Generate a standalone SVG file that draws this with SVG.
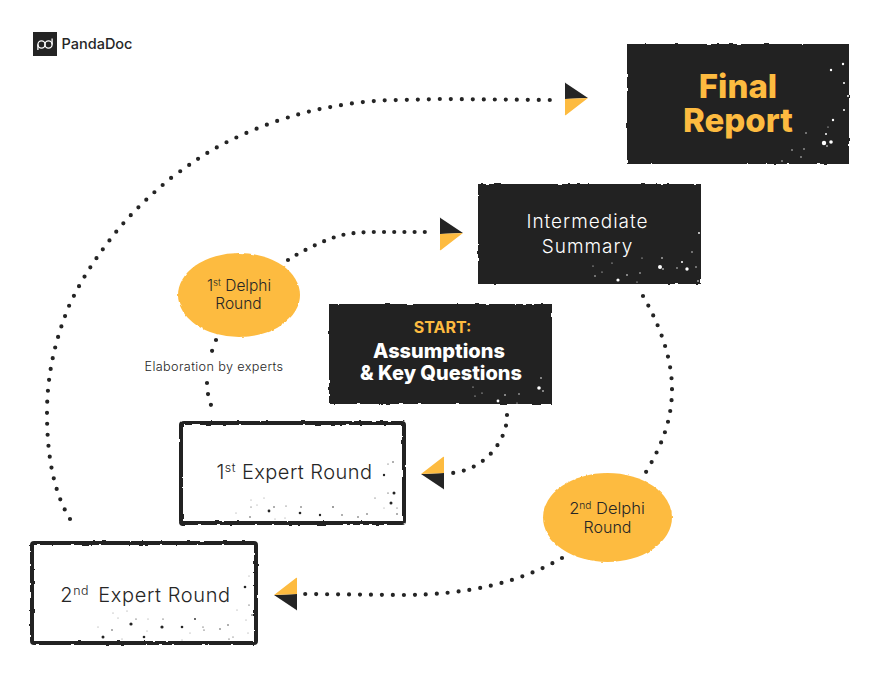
<svg xmlns="http://www.w3.org/2000/svg" xmlns:xlink="http://www.w3.org/1999/xlink" width="880" height="693" viewBox="0 0 880 693">
  <style>
    text { font-family: "Inter", "Liberation Sans", sans-serif; text-anchor: middle; fill: #262626; }
    .solid { fill: #242424; }
    .frame { fill: #fff; stroke: #242424; stroke-width: 4; stroke-linejoin: round; }
    .blob { fill: #FDBB40; }
    .dots { fill: none; stroke: #242424; stroke-width: 4.2; stroke-linecap: round; stroke-dasharray: 0 1; }
    .lt { fill: #fff; }
    .dk { fill: #242424; }
    .sup { font-size: 62%; }
  </style>
  <defs>
    <filter id="rough" x="-5%" y="-8%" width="110%" height="116%">
      <feTurbulence type="fractalNoise" baseFrequency="0.14" numOctaves="2" seed="4" result="n"/>
      <feDisplacementMap in="SourceGraphic" in2="n" scale="2.6" xChannelSelector="R" yChannelSelector="G"/>
    </filter>
    <g id="head">
      <path class="dk" d="M0 -17 Q-.5 -17 .5 -16 L23 -1 L0 0 Z"/>
      <path class="blob" d="M0 0 L23 -1 L1 16 Q-.5 17 0 15 Z"/>
    </g>
  </defs>

  <g id="logo">
    <rect x="33" y="32" width="24" height="24" fill="#242424"/>
    <g fill="none" stroke="#fff" stroke-width="1.3">
      <circle cx="41.500" cy="44.500" r="3.600"/>
      <circle cx="48.500" cy="44.500" r="3.600"/>
      <line x1="37.900" y1="44.500" x2="37.900" y2="50"/>
      <line x1="52.100" y1="44.500" x2="52.100" y2="38.500"/>
    </g>
    <text x="97" y="49" font-size="14.500" font-weight="500">PandaDoc</text>
  </g>

  <g id="connectors">
    <path class="dots" pathLength="71.020" d="M70 519 C 52 490 47 450 47 413 C 47 375 55 340 69 306 C 80 282 93 262 109 241 C 127 217 148 197 171 178 C 190 164 207 152 227 142 C 243 134 260 127 277 121 C 292 116 306 112 320 109 C 345 104 370 100 400 100 L 440 99 L 550 100"/>
    <path class="dots" pathLength="14.020" d="M288 260 C 300 252 320 242 338 236 C 350 233 362 232 375 232 L 425 232"/>
    <path class="dots" pathLength="17.020" d="M643 296 C 657 320 672 355 672 389 C 672 420 662 445 646 472"/>
    <path class="dots" pathLength="24.020" d="M562 558 C 520 582 470 595 400 595 L 305 594"/>
    <path class="dots" pathLength="8.020" d="M507 415 C 508 435 490 468 453 473"/>
    <path class="dots" pathLength="1.020" d="M216 340 L 212 351"/>
    <path class="dots" pathLength="2.020" d="M207 383 Q 207 394 211 405"/>
    <use xlink:href="#head" href="#head" x="565" y="99"/>
    <use xlink:href="#head" href="#head" x="440" y="234"/>
    <use xlink:href="#head" href="#head" transform="translate(444 473) rotate(180)"/>
    <use xlink:href="#head" href="#head" transform="translate(297 594) rotate(180)"/>
  </g>

  <g id="final-report">
    <rect class="solid" x="627" y="44" width="222" height="120" filter="url(#rough)"/>
    <g class="lt">
      <circle cx="831" cy="70" r="1.200"/><circle cx="843" cy="64" r="1.200"/><circle cx="844" cy="83" r="1"/><circle cx="848" cy="96" r="1"/><circle cx="844" cy="110" r="1"/><circle cx="833" cy="120" r="1.200"/><circle cx="828" cy="127" r=".6"/><circle cx="826" cy="134" r="1"/><circle cx="806" cy="133" r=".7"/><circle cx="824" cy="143" r="2.200"/><circle cx="831" cy="142" r="1.800"/><circle cx="827" cy="146" r=".8"/><circle cx="804" cy="149" r=".7"/><circle cx="792" cy="150" r=".7"/><circle cx="801" cy="157" r=".7"/><circle cx="782" cy="161" r=".7"/>
    </g>
    <text font-size="33" font-weight="800" style="fill:#FDBB40"><tspan x="738" y="98">Final</tspan><tspan x="738" y="132">Report</tspan></text>
  </g>

  <g id="intermediate-summary">
    <rect class="solid" x="478" y="184" width="223" height="100" filter="url(#rough)"/>
    <g class="lt">
      <circle cx="699" cy="233" r=".9"/><circle cx="692" cy="252" r=".7"/><circle cx="682" cy="262" r="1"/><circle cx="662" cy="258" r=".8"/><circle cx="642" cy="258" r=".6"/><circle cx="660" cy="267" r="2"/><circle cx="663" cy="269" r=".8"/><circle cx="687" cy="269" r="1.700"/><circle cx="677" cy="268" r=".7"/><circle cx="696" cy="267" r=".7"/><circle cx="612" cy="263" r=".6"/><circle cx="593" cy="266" r=".6"/><circle cx="602" cy="272" r=".6"/><circle cx="595" cy="276" r=".7"/><circle cx="618" cy="280" r="1.600"/><circle cx="627" cy="275" r=".8"/><circle cx="640" cy="273" r=".7"/><circle cx="637" cy="282" r=".6"/><circle cx="698" cy="281" r=".8"/>
    </g>
    <text x="587.500" y="228" font-size="19" font-weight="300" letter-spacing="1" style="fill:#fff">Intermediate</text>
    <text x="587.500" y="253" font-size="19" font-weight="300" letter-spacing="1" style="fill:#fff">Summary</text>
  </g>

  <g id="start">
    <rect class="solid" x="329" y="304" width="223" height="100" filter="url(#rough)"/>
    <g class="lt">
      <circle cx="541" cy="378" r=".8"/><circle cx="539" cy="388" r="1.800"/><circle cx="543" cy="391" r=".8"/><circle cx="519" cy="394" r=".7"/><circle cx="505" cy="395" r=".8"/><circle cx="482" cy="393" r=".6"/><circle cx="473" cy="387" r=".6"/><circle cx="475" cy="396" r=".6"/><circle cx="498" cy="401" r="1.400"/><circle cx="517" cy="403" r=".6"/>
    </g>
    <text x="442.500" y="333" font-size="16" font-weight="700" style="fill:#FDBB40">START:</text>
    <text x="439" y="358" font-size="20" font-weight="800" style="fill:#fff">Assumptions</text>
    <text x="441" y="380" font-size="20" font-weight="800" style="fill:#fff">&amp; Key Questions</text>
  </g>

  <g id="first-expert-round">
    <rect class="frame" x="181" y="423" width="223" height="100" rx="2" filter="url(#rough)"/>
    <g class="dk">
      <circle cx="393" cy="462" r=".7"/><circle cx="388" cy="464" r=".5"/><circle cx="384" cy="475" r="1.200"/><circle cx="394" cy="493" r="1.500"/><circle cx="388" cy="493" r=".6"/><circle cx="391" cy="503" r="1.500"/><circle cx="375" cy="498" r=".5"/><circle cx="397" cy="508" r=".5"/><circle cx="397" cy="514" r=".7"/><circle cx="269" cy="511" r="1.400"/><circle cx="251" cy="500" r=".4"/><circle cx="264" cy="498" r=".4"/><circle cx="257" cy="505" r=".4"/><circle cx="251" cy="507" r=".5"/><circle cx="274" cy="507" r=".7"/><circle cx="286" cy="506" r=".5"/><circle cx="301" cy="507" r=".7"/><circle cx="300" cy="513" r="1.300"/><circle cx="320" cy="515" r="1.200"/><circle cx="333" cy="507" r=".8"/><circle cx="342" cy="515" r=".7"/><circle cx="358" cy="517" r=".7"/><circle cx="367" cy="514" r=".7"/><circle cx="250" cy="517" r=".7"/><circle cx="236" cy="513" r=".4"/><circle cx="285" cy="518" r=".4"/><circle cx="275" cy="519" r=".4"/><circle cx="384" cy="508" r=".4"/>
    </g>
    <text x="294.500" y="479" font-size="20" font-weight="300" letter-spacing=".45">1<tspan class="sup" dy="-7">st</tspan><tspan dy="7"> Expert Round</tspan></text>
  </g>

  <g id="second-expert-round">
    <rect class="frame" x="32" y="543" width="224" height="100" rx="2" filter="url(#rough)"/>
    <g class="dk">
      <circle cx="245" cy="587" r="1.300"/><circle cx="249" cy="576" r=".4"/><circle cx="249" cy="605" r=".6"/><circle cx="252" cy="615" r=".7"/><circle cx="237" cy="610" r=".4"/><circle cx="246" cy="620" r=".4"/><circle cx="228" cy="625" r=".7"/><circle cx="220" cy="629" r=".7"/><circle cx="203" cy="627" r=".6"/><circle cx="195" cy="619" r=".9"/><circle cx="182" cy="627" r="1.300"/><circle cx="162" cy="627" r="1.600"/><circle cx="163" cy="619" r=".6"/><circle cx="148" cy="619" r=".4"/><circle cx="136" cy="619" r=".6"/><circle cx="131" cy="624" r="1.600"/><circle cx="112" cy="630" r=".7"/><circle cx="103" cy="637" r="1.500"/><circle cx="144" cy="637" r="1.300"/><circle cx="118" cy="618" r=".4"/><circle cx="113" cy="613" r=".4"/><circle cx="127" cy="611" r=".4"/><circle cx="98" cy="627" r=".4"/><circle cx="122" cy="639" r=".4"/><circle cx="147" cy="631" r=".4"/><circle cx="190" cy="633" r=".4"/><circle cx="182" cy="640" r=".4"/><circle cx="229" cy="639" r=".6"/><circle cx="233" cy="637" r=".5"/><circle cx="204" cy="630" r=".6"/><circle cx="248" cy="633" r=".4"/>
    </g>
    <text x="145.500" y="602" font-size="20" font-weight="300" letter-spacing=".6">2<tspan class="sup" dy="-7">nd</tspan><tspan dy="7" dx="3"> Expert Round</tspan></text>
  </g>

  <g id="first-delphi-round">
    <ellipse class="blob" cx="239" cy="295" rx="61" ry="42" filter="url(#rough)"/>
    <text x="239" y="291" font-size="15.500" font-weight="350">1<tspan class="sup" dy="-5">st</tspan><tspan dy="5"> Delphi</tspan></text>
    <text x="238.500" y="309" font-size="15.500" font-weight="350">Round</text>
  </g>

  <g id="second-delphi-round">
    <ellipse class="blob" cx="607.500" cy="517.500" rx="64.500" ry="44.500" filter="url(#rough)"/>
    <text x="607" y="514" font-size="16.500" font-weight="350">2<tspan class="sup" dy="-5">nd</tspan><tspan dy="5"> Delphi</tspan></text>
    <text x="607.500" y="533" font-size="16" font-weight="350">Round</text>
  </g>

  <text id="elaboration-label" x="214" y="371" font-size="12.700" font-weight="300" letter-spacing=".35">Elaboration by experts</text>
</svg>
